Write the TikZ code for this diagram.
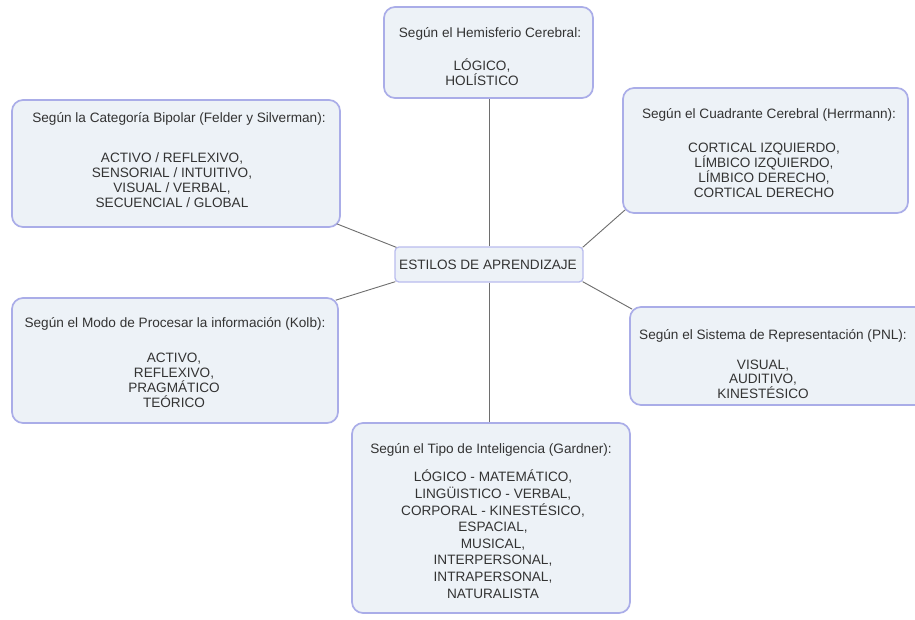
\documentclass[tikz,border=0pt]{standalone}
\usepackage{fontspec}
\setmainfont{Liberation Sans}
\definecolor{boxfill}{HTML}{EDF2F7}
\definecolor{boxline}{HTML}{AAADE8}
\definecolor{hubline}{HTML}{B9BCEE}
\definecolor{ink}{HTML}{333333}
\definecolor{wire}{HTML}{6E6E6E}
\tikzset{
  catbox/.style={draw=boxline, line width=1.7pt, fill=boxfill,
    rounded corners=11pt, inner sep=0pt},
  hubbox/.style={draw=hubline, line width=1.3pt, fill=boxfill,
    rounded corners=4pt, inner sep=0pt},
  heading/.style={anchor=base, inner sep=0pt, text=ink,
    font=\fontsize{13.6}{15}\selectfont},
  % multi-line lists: the base anchor sits on the last line
  items/.style={anchor=base, inner sep=0pt, text=ink, align=center,
    font=\fontsize{13.6}{#1}\selectfont},
  items/.default=15,
  wireline/.style={draw=wire, line width=0.9pt},
}
\begin{document}
\begin{tikzpicture}[x=1pt, y=-1pt]
\useasboundingbox (0,0) rectangle (915,619);
\clip (0,0) rectangle (915,619);
\fill[white] (0,0) rectangle (915,619);

% category boxes
\node[catbox, minimum width=209, minimum height=91]  (hemis)   at (488.5,52.5) {};
\node[catbox, minimum width=328, minimum height=127] (felder)  at (176,163.5) {};
\node[catbox, minimum width=285, minimum height=125] (herr)    at (765.5,150.5) {};
\node[catbox, minimum width=326, minimum height=125] (kolb)    at (175,360.5) {};
\node[catbox, minimum width=310, minimum height=98]  (pnl)     at (785,356) {};
\node[catbox, minimum width=278, minimum height=190] (gardner) at (491,518) {};

% central box
\node[hubbox, minimum width=188, minimum height=35] (hub) at (489,264.5) {};
\node[heading] (hubT) at (488,269.5) {ESTILOS DE APRENDIZAJE};

% connectors
\draw[wireline] (hub.north) -- (hub.north |- hemis.south);
\draw[wireline] ([shift={(2,1)}]hub.north west) -- ([shift={(-4,-4)}]felder.south east);
\draw[wireline] ([shift={(-1,1)}]hub.north east) -- ([shift={(3,-4)}]herr.south west);
\draw[wireline] ([shift={(1,-1)}]hub.south west) -- ([shift={(-3,3)}]kolb.north east);
\draw[wireline] ([shift={(-1,-1)}]hub.south east) -- ([shift={(3,3)}]pnl.north west);
\draw[wireline] (hub.south) -- (hub.south |- gardner.north);

% texts
\node[heading] (hemisT) at (490,37) {Según el Hemisferio Cerebral:};
\node[items] (hemisB) at (482,85) {LÓGICO,\\HOLÍSTICO};

\node[heading] (felderT) at (179,122) {Según la Categoría Bipolar (Felder y Silverman):};
\node[items] (felderB) at (172,207) {ACTIVO / REFLEXIVO,\\SENSORIAL / INTUITIVO,\\VISUAL / VERBAL,\\SECUENCIAL / GLOBAL};

\node[heading] (herrT) at (769,118) {Según el Cuadrante Cerebral (Herrmann):};
\node[items] (herrB) at (764,197) {CORTICAL IZQUIERDO,\\LÍMBICO IZQUIERDO,\\LÍMBICO DERECHO,\\CORTICAL DERECHO};

\node[heading] (kolbT) at (175,327) {Según el Modo de Procesar la información (Kolb):};
\node[items] (kolbB) at (174,407) {ACTIVO,\\REFLEXIVO,\\PRAGMÁTICO\\TEÓRICO};

\node[heading] (pnlT) at (773,339) {Según el Sistema de Representación (PNL):};
\node[items=14.5] (pnlB) at (763,398) {VISUAL,\\AUDITIVO,\\KINESTÉSICO};

\node[heading] (gardnerT) at (491,453) {Según el Tipo de Inteligencia (Gardner):};
\node[items=16.6] (gardnerB) at (493,598) {LÓGICO - MATEMÁTICO,\\LINGÜISTICO - VERBAL,\\CORPORAL - KINESTÉSICO,\\ESPACIAL,\\MUSICAL,\\INTERPERSONAL,\\INTRAPERSONAL,\\NATURALISTA};
\end{tikzpicture}
\end{document}
